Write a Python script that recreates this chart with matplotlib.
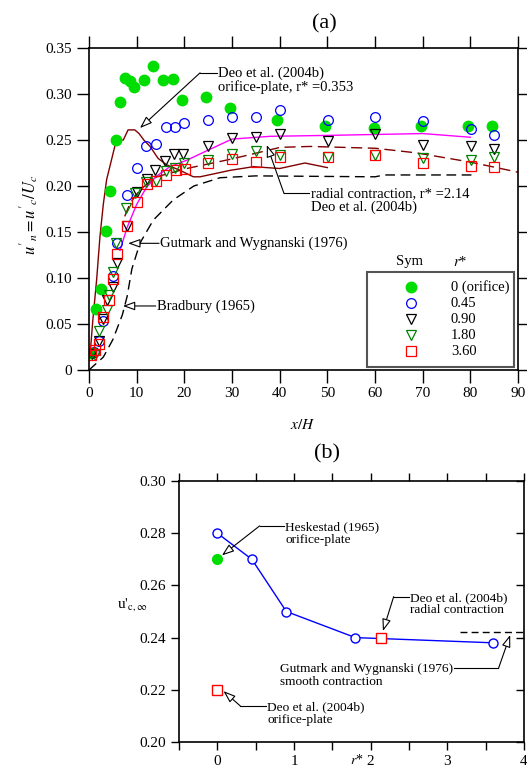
import numpy as np
import matplotlib
matplotlib.use('Agg')
import matplotlib.pyplot as plt
from matplotlib.patches import Rectangle

plt.rcParams['font.family'] = ['Liberation Serif', 'DejaVu Serif']
plt.rcParams['mathtext.fontset'] = 'stix'
plt.rcParams['font.size'] = 10.5

# ---------------- panel (a) data ----------------
# r* = 0 (orifice)
x_r0 = [0.5, 1.5, 2.5, 3.5, 4.4, 5.6, 6.5, 7.5, 8.6, 9.4, 11.5, 13.5, 15.6, 17.7, 19.6,
        24.5, 29.6, 39.5, 49.6, 59.7, 69.6, 79.6, 84.6]
y_r0 = [0.018, 0.066, 0.088, 0.151, 0.195, 0.250, 0.291, 0.317, 0.314, 0.308, 0.315, 0.330,
        0.315, 0.316, 0.293, 0.297, 0.285, 0.272, 0.265, 0.263, 0.265, 0.265, 0.265]
# r* = 0.45
x_r045 = [1.0, 2.0, 3.0, 5.1, 5.9, 7.9, 10, 11.9, 14.0, 16.1, 18.0, 20.0, 25.0, 30.1, 35.0,
          40.1, 50.1, 60.1, 70.1, 80.1, 85.0]
y_r045 = [0.020, 0.031, 0.053, 0.102, 0.138, 0.190, 0.220, 0.243, 0.246, 0.264, 0.264, 0.268,
          0.272, 0.275, 0.275, 0.283, 0.272, 0.275, 0.271, 0.262, 0.255]
# r* = 0.90
x_r09 = [0.6, 2.0, 3.0, 3.8, 5.0, 5.9, 8.0, 10, 12.1, 13.8, 15.9, 17.9, 19.8, 25.0, 30.1,
         35.0, 40.1, 50.1, 60.1, 70.1, 80.1, 85.0]
y_r09 = [0.017, 0.032, 0.055, 0.076, 0.090, 0.116, 0.157, 0.194, 0.208, 0.217, 0.227, 0.235,
         0.235, 0.244, 0.252, 0.253, 0.256, 0.249, 0.256, 0.245, 0.243, 0.240]
# r* = 1.80
x_r18 = [0.5, 1.3, 2.0, 3.8, 4.3, 5.0, 5.7, 7.8, 9.7, 12.0, 14.0, 16.1, 18.0, 20.0, 24.9,
         30.1, 35.0, 40.1, 50.1, 60.1, 70.1, 80.1, 85.0]
y_r18 = [0.018, 0.016, 0.042, 0.065, 0.081, 0.107, 0.138, 0.176, 0.192, 0.204, 0.205, 0.216,
         0.220, 0.225, 0.228, 0.235, 0.238, 0.234, 0.232, 0.234, 0.230, 0.228, 0.231]
# r* = 3.60
x_r36 = [0.4, 1.2, 2.0, 3.0, 4.1, 5.0, 5.9, 8.0, 10, 12.1, 14.1, 16.2, 18.2, 20.1, 25.0,
         30.1, 35.0, 40.1, 50.1, 60.1, 70.1, 80.1, 85.0]
y_r36 = [0.016, 0.022, 0.028, 0.058, 0.076, 0.099, 0.126, 0.157, 0.183, 0.202, 0.205, 0.212,
         0.217, 0.219, 0.225, 0.229, 0.226, 0.232, 0.232, 0.234, 0.225, 0.222, 0.221]

# Deo et al. (2004b) orifice-plate, r* = 0.353
x_deo_op = [0.2, 0.8, 1.6, 2.3, 3.0, 3.7, 4.7, 5.5, 6.5, 7.2, 8.2, 9.6, 10.5, 11.5, 12.8,
            14.5, 16.3, 19.1, 21.9, 23.3, 29.6, 34.5, 40.0, 45.3, 50.0]
y_deo_op = [0.015, 0.054, 0.098, 0.145, 0.180, 0.207, 0.228, 0.245, 0.250, 0.250, 0.261,
            0.261, 0.257, 0.250, 0.243, 0.230, 0.223, 0.217, 0.210, 0.210, 0.217, 0.221,
            0.219, 0.225, 0.220]
# Deo et al. (2004b) radial contraction, r* = 2.14
x_deo_rc = [7.5, 8.6, 10.7, 14.2, 20.5, 29.6, 34.5, 40.1, 46.4, 60.1, 68.7, 80.0, 90.0]
y_deo_rc = [0.167, 0.181, 0.196, 0.210, 0.219, 0.229, 0.235, 0.242, 0.243, 0.241, 0.236,
            0.226, 0.215]
# Gutmark and Wygnanski (1976)
x_gw = [6.5, 8.0, 10, 12, 14, 17, 20.5, 25, 30, 38, 50, 70, 80]
y_gw = [0.130, 0.155, 0.180, 0.198, 0.210, 0.221, 0.228, 0.239, 0.251, 0.254, 0.255,
        0.257, 0.253]
# Bradbury (1965)
x_brad = [0, 3, 5, 7, 8, 9, 10.7, 13.5, 17.7, 22, 27.5, 35, 60, 62, 81]
y_brad = [0.0, 0.014, 0.033, 0.060, 0.080, 0.110, 0.138, 0.163, 0.185, 0.200, 0.209,
          0.211, 0.210, 0.212, 0.212]

legend_labels = ['0 (orifice)', '0.45', '0.90', '1.80', '3.60']

# ---------------- panel (b) data ----------------
rstar_b = [0, 0.45, 0.9, 1.8, 3.6]
uinf_b = [0.28, 0.27, 0.25, 0.24, 0.238]
hesk_r, hesk_u = [0], [0.27]
deo_sq_r, deo_sq_u = [0, 2.14], [0.22, 0.24]
gw_r, gw_u = [3.17, 4.0], [0.242, 0.242]

GREEN = '#00dd00'
DKRED = '#800000'

fig = plt.figure(figsize=(5.27, 7.69), dpi=100)

# ================= (a) =================
ax = fig.add_axes([89/527, 1-370/769, 429/527, 322/769])
ms = 7
ax.plot(x_brad, y_brad, color='black', lw=1, dashes=(7, 4))
ax.plot(x_deo_op, y_deo_op, color=DKRED, lw=1)
ax.plot(x_deo_rc, y_deo_rc, color=DKRED, lw=1, dashes=(8, 4))
ax.plot(x_gw, y_gw, color='magenta', lw=1)
ax.plot(x_r0, y_r0, 'o', color=GREEN, ms=ms+0.5, mec=GREEN)
ax.plot(x_r045, y_r045, 'o', mfc='none', mec='blue', ms=ms, mew=0.9)
ax.plot(x_r09, y_r09, 'v', mfc='none', mec='black', ms=ms, mew=0.9)
ax.plot(x_r18, y_r18, 'v', mfc='none', mec='green', ms=ms, mew=0.9)
ax.plot(x_r36, y_r36, 's', mfc='none', mec='red', ms=ms, mew=0.9)

ax.set_xlim(0, 90)
ax.set_ylim(0, 0.35)
ax.set_xticks(np.arange(0, 91, 10))
ax.set_yticks(np.arange(0, 0.351, 0.05))
ax.set_yticklabels(['0'] + ['%.2f' % v for v in np.arange(0.05, 0.351, 0.05)])
ax.tick_params(direction='out', length=9, width=1, top=True, right=True, labelsize=11)
for s in ax.spines.values():
    s.set_linewidth(1.2)

arrow_kw = dict(arrowstyle='-|>,head_length=0.7,head_width=0.25', color='black', lw=0.8,
                shrinkA=0, shrinkB=0, fc='white')

# Deo orifice-plate label
ax.plot([23.3, 26.8], [0.323, 0.323], color='black', lw=0.8)
ax.annotate('', xy=(10.7, 0.263), xytext=(23.3, 0.323), arrowprops=arrow_kw)
ax.text(27.1, 0.3148, 'Deo et al. (2004b)\norifice-plate, r* =0.353', ha='left', va='center',
        linespacing=1.05)
# radial contraction label
ax.plot([40.9, 46.2], [0.192, 0.192], color='black', lw=0.8)
ax.annotate('', xy=(37.3, 0.2446), xytext=(40.9, 0.192), arrowprops=arrow_kw)
ax.text(46.5, 0.1837, 'radial contraction, r* =2.14\nDeo et al. (2004b)', ha='left',
        va='center', linespacing=1.05)
# Gutmark
ax.annotate('', xy=(8.2, 0.1377), xytext=(14.7, 0.1377), arrowprops=arrow_kw)
ax.text(14.9, 0.1377, 'Gutmark and Wygnanski (1976)', ha='left', va='center')
# Bradbury
ax.annotate('', xy=(7.1, 0.0696), xytext=(14.0, 0.0696), arrowprops=arrow_kw)
ax.text(14.2, 0.0696, 'Bradbury (1965)', ha='left', va='center')

# legend drawn by hand to match the "Sym / r*" table
ax.add_patch(Rectangle((58.4, 0.0029), 30.8, 0.1039, fill=False, ec='#555555', lw=1.5,
                       zorder=5))
ax.text(67.3, 0.1177, 'Sym', ha='center', va='center')
ax.text(77.8, 0.1177, '$r$*', ha='center', va='center')
leg_y = [0.0899, 0.0725, 0.0551, 0.0377, 0.0203]
leg_styles = [dict(marker='o', color=GREEN, mec=GREEN, ms=ms+0.5),
              dict(marker='o', mfc='none', mec='blue', ms=ms, mew=0.9),
              dict(marker='v', mfc='none', mec='black', ms=ms, mew=0.9),
              dict(marker='v', mfc='none', mec='green', ms=ms, mew=0.9),
              dict(marker='s', mfc='none', mec='red', ms=ms, mew=0.9)]
for yy, lab, st in zip(leg_y, legend_labels, leg_styles):
    ax.plot([67.5], [yy], ls='none', zorder=6, **st)
    ax.text(75.9, yy, lab, ha='left', va='center', zorder=6)

fig.text(324/527, 1-24/769, '(a)', ha='center', va='center', fontsize=16)
fig.text(303/527, 1-425/769, '$x/H$', ha='center', va='center', fontsize=11)
fig.text(30/527, 1-215/769, "$u'_n = u'_c/U_c$", rotation=90, ha='center', va='center',
         fontsize=12)

# ================= (b) =================
bx = fig.add_axes([179/527, 1-742/769, 345/527, 261/769])
bx.plot(rstar_b, uinf_b, '-o', color='blue', lw=1, mfc='white', mec='blue', ms=6.5, mew=1)
bx.plot(hesk_r, hesk_u, 'o', color=GREEN, mec=GREEN, ms=7)
bx.plot(deo_sq_r, deo_sq_u, 's', mfc='white', mec='red', ms=7, mew=1, zorder=4)
bx.plot(gw_r, gw_u, color='black', lw=1, dashes=(5, 3))

bx.set_xlim(-0.5, 4)
bx.set_ylim(0.2, 0.3)
bx.set_xticks([0, 1, 2, 3, 4])
bx.set_xticks(np.arange(-0.5, 4.01, 0.5), minor=True)
bx.set_yticks(np.arange(0.2, 0.301, 0.02))
bx.set_yticklabels(['%.2f' % v for v in np.arange(0.2, 0.301, 0.02)])
bx.tick_params(which='both', direction='out', length=6, width=1, top=True, labelsize=11)
bx.tick_params(axis='y', which='both', right=True)
for t in bx.yaxis.get_ticklines()[1::2]:
    t.set_marker(matplotlib.markers.TICKLEFT)
for s in bx.spines.values():
    s.set_linewidth(1.2)

fs_b = 9.6
bx.plot([0.552, 0.87], [0.2828, 0.2828], color='black', lw=0.8)
bx.annotate('', xy=(0.06, 0.2715), xytext=(0.552, 0.2828), arrowprops=arrow_kw)
bx.text(0.887, 0.2799, 'Heskestad (1965)\norifice-plate', ha='left', va='center',
        linespacing=1.05, fontsize=fs_b)

bx.plot([2.3, 2.5], [0.2557, 0.2557], color='black', lw=0.8)
bx.annotate('', xy=(2.16, 0.2425), xytext=(2.3, 0.2557), arrowprops=arrow_kw)
bx.text(2.516, 0.2528, 'Deo et al. (2004b)\nradial contraction', ha='left', va='center',
        linespacing=1.05, fontsize=fs_b)

bx.plot([3.09, 3.667], [0.2282, 0.2282], color='black', lw=0.8)
bx.annotate('', xy=(3.82, 0.241), xytext=(3.667, 0.2282), arrowprops=arrow_kw)
bx.text(3.07, 0.2254, 'Gutmark and Wygnanski (1976)\nsmooth contraction', ha='right',
        multialignment='left', va='center', linespacing=1.05, fontsize=fs_b)

bx.plot([0.3, 0.64], [0.2138, 0.2138], color='black', lw=0.8)
bx.annotate('', xy=(0.08, 0.2195), xytext=(0.3, 0.2138), arrowprops=arrow_kw)
bx.text(0.648, 0.2108, 'Deo et al. (2004b)\norifice-plate', ha='left', va='center',
        linespacing=1.05, fontsize=fs_b)

fig.text(327/527, 1-454/769, '(b)', ha='center', va='center', fontsize=16)
fig.text(132/527, 1-605/769, r"u$'_{\mathrm{c,\infty}}$", ha='center', va='center',
         fontsize=11)
fig.text(364/527, 1-760/769, '$r$*', ha='right', va='center', fontsize=10)

fig.savefig('out.png', dpi=100)
